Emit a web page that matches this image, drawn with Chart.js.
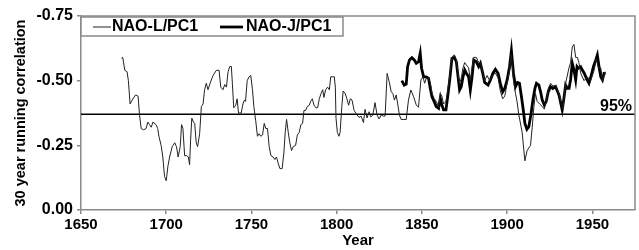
<!DOCTYPE html>
<html>
<head>
<meta charset="utf-8">
<script src="https://cdn.jsdelivr.net/npm/chart.js@4"></script>
<style>
  html, body { margin: 0; padding: 0; background: #fff; }
  #wrap { width: 639px; height: 250px; }
</style>
</head>
<body>
<div id="wrap"><canvas id="naoChart" width="639" height="250"></canvas></div>
<script>
// NAO-L/PC1 (thin line)
const naoLYears = [
  1673.7, 1674.5, 1675.7, 1677.0, 1677.8, 1678.8, 1680.0, 1682.0, 1683.5, 1684.3,
  1685.3, 1686.7, 1688.2, 1689.2, 1690.2, 1691.2, 1692.2, 1694.0, 1695.0, 1695.7,
  1697.0, 1698.0, 1699.0, 1700.0, 1701.0, 1702.0, 1703.5, 1705.0, 1706.0, 1707.0,
  1708.2, 1709.0, 1709.8, 1710.8, 1712.0, 1713.0, 1713.7, 1714.3, 1715.0, 1716.0,
  1716.7, 1717.6, 1718.4, 1719.6, 1720.6, 1721.6, 1722.5, 1723.5, 1724.5, 1726.0,
  1727.5, 1729.4, 1731.0, 1732.0, 1733.3, 1734.3, 1735.3, 1736.3, 1737.3, 1738.2,
  1738.8, 1739.6, 1740.8, 1741.6, 1742.4, 1744.0, 1745.0, 1745.9, 1746.5, 1747.5,
  1748.6, 1749.6, 1750.6, 1751.4, 1752.5, 1753.5, 1754.5, 1755.5, 1756.5, 1757.5,
  1758.4, 1759.4, 1760.4, 1761.4, 1762.7, 1763.7, 1764.7, 1765.7, 1766.7, 1768.0,
  1769.0, 1769.8, 1770.6, 1771.6, 1772.5, 1773.5, 1774.5, 1775.9, 1776.9, 1778.0,
  1779.0, 1780.0, 1780.8, 1781.8, 1782.7, 1783.9, 1784.7, 1785.7, 1786.7, 1787.8,
  1788.8, 1789.8, 1790.8, 1791.8, 1792.5, 1793.5, 1794.7, 1795.7, 1796.5, 1797.6,
  1798.6, 1799.2, 1799.6, 1800.4, 1801.3, 1802.0, 1803.0, 1803.8, 1805.0, 1806.0,
  1807.0, 1808.0, 1809.0, 1810.2, 1811.2, 1812.0, 1813.1, 1814.3, 1815.7, 1816.6,
  1817.8, 1819.0, 1820.0, 1821.2, 1822.5, 1823.7, 1824.9, 1826.1, 1827.4, 1828.4,
  1829.6, 1830.8, 1832.0, 1832.9, 1833.9, 1834.9, 1835.9, 1836.8, 1837.8, 1839.4,
  1840.8, 1842.1, 1843.5, 1845.1, 1846.7, 1848.0, 1849.4, 1850.6, 1851.6, 1852.5,
  1853.9, 1855.0, 1856.0, 1857.2, 1858.4, 1859.8, 1860.8, 1861.7, 1862.7, 1864.1,
  1865.1, 1866.3, 1867.6, 1869.0, 1870.2, 1871.2, 1872.1, 1873.1, 1874.1, 1875.1,
  1876.1, 1877.4, 1878.4, 1879.4, 1880.4, 1881.9, 1883.3, 1884.3, 1885.7, 1886.8,
  1888.2, 1889.8, 1891.6, 1893.1, 1894.7, 1896.0, 1897.4, 1898.6, 1900.0, 1901.4,
  1902.5, 1903.7, 1904.9, 1905.8, 1906.8, 1908.8, 1910.4, 1911.7, 1913.7, 1914.7,
  1915.7, 1916.6, 1917.6, 1919.0, 1920.6, 1921.8, 1922.9, 1924.1, 1925.5, 1926.8,
  1928.4, 1930.4, 1932.7, 1934.3, 1936.3, 1937.2, 1938.2, 1939.2, 1940.2, 1941.2,
  1942.1, 1943.1, 1945.1, 1947.0, 1949.0, 1951.0, 1952.3, 1953.5, 1954.9, 1955.9,
  1957.4
];
const naoLValues = [
  -0.586, -0.59, -0.54, -0.535, -0.50, -0.41, -0.425, -0.445, -0.44, -0.37,
  -0.315, -0.31, -0.315, -0.34, -0.33, -0.32, -0.34, -0.33, -0.315, -0.285,
  -0.25, -0.205, -0.13, -0.113, -0.17, -0.205, -0.245, -0.26, -0.245, -0.205,
  -0.245, -0.33, -0.315, -0.21, -0.21, -0.205, -0.175, -0.27, -0.355, -0.34,
  -0.335, -0.26, -0.245, -0.295, -0.40, -0.41, -0.465, -0.49, -0.465, -0.495,
  -0.52, -0.54, -0.54, -0.475, -0.465, -0.485, -0.475, -0.535, -0.555, -0.555,
  -0.49, -0.395, -0.405, -0.43, -0.375, -0.375, -0.41, -0.425, -0.42, -0.50,
  -0.515, -0.52, -0.465, -0.40, -0.345, -0.285, -0.295, -0.285, -0.29, -0.335,
  -0.315, -0.315, -0.245, -0.21, -0.205, -0.195, -0.205, -0.18, -0.16, -0.16,
  -0.22, -0.30, -0.35, -0.30, -0.26, -0.23, -0.245, -0.25, -0.29, -0.30,
  -0.33, -0.335, -0.385, -0.385, -0.40, -0.405, -0.42, -0.43, -0.405, -0.395,
  -0.395, -0.43, -0.45, -0.465, -0.435, -0.465, -0.475, -0.465, -0.515, -0.515,
  -0.515, -0.475, -0.355, -0.30, -0.285, -0.30, -0.40, -0.46, -0.45, -0.43,
  -0.405, -0.43, -0.425, -0.385, -0.375, -0.367, -0.358, -0.363, -0.338, -0.389,
  -0.356, -0.38, -0.36, -0.367, -0.415, -0.367, -0.352, -0.367, -0.363, -0.363,
  -0.528, -0.496, -0.457, -0.451, -0.425, -0.445, -0.406, -0.367, -0.35, -0.35,
  -0.35, -0.425, -0.464, -0.438, -0.406, -0.397, -0.503, -0.515, -0.49, -0.509,
  -0.51, -0.49, -0.45, -0.43, -0.42, -0.40, -0.45, -0.44, -0.41, -0.42,
  -0.46, -0.52, -0.59, -0.60, -0.58, -0.53, -0.49, -0.51, -0.55, -0.57,
  -0.56, -0.55, -0.50, -0.55, -0.59, -0.59, -0.57, -0.57, -0.53, -0.50,
  -0.52, -0.50, -0.52, -0.53, -0.51, -0.46, -0.43, -0.44, -0.49, -0.54,
  -0.60, -0.50, -0.45, -0.42, -0.37, -0.30, -0.19, -0.23, -0.25, -0.32,
  -0.40, -0.45, -0.42, -0.41, -0.40, -0.39, -0.42, -0.47, -0.49, -0.48,
  -0.48, -0.45, -0.39, -0.49, -0.55, -0.57, -0.63, -0.64, -0.59, -0.59,
  -0.57, -0.53, -0.50, -0.515, -0.50, -0.54, -0.585, -0.55, -0.55, -0.50,
  -0.535
];

// NAO-J/PC1 (thick line)
const naoJYears = [
  1838.2, 1839.6, 1840.8, 1841.6, 1842.7, 1844.1, 1845.5, 1846.7, 1848.0, 1849.0,
  1849.8, 1851.0, 1852.5, 1853.9, 1854.9, 1855.9, 1857.2, 1858.4, 1859.8, 1860.8,
  1861.7, 1862.7, 1864.1, 1865.1, 1866.3, 1867.6, 1869.0, 1870.2, 1871.2, 1872.1,
  1873.1, 1874.1, 1875.1, 1876.1, 1877.4, 1878.4, 1879.4, 1880.4, 1881.9, 1883.3,
  1884.3, 1885.7, 1886.8, 1888.8, 1890.2, 1891.6, 1893.1, 1894.7, 1896.0, 1897.4,
  1898.6, 1900.0, 1901.4, 1902.5, 1903.7, 1904.9, 1906.1, 1907.2, 1908.4, 1909.6,
  1910.4, 1911.6, 1912.7, 1913.9, 1915.1, 1916.3, 1917.2, 1918.6, 1919.6, 1920.6,
  1921.8, 1922.9, 1924.1, 1925.5, 1926.8, 1928.4, 1930.4, 1932.3, 1933.3, 1934.3,
  1935.3, 1936.3, 1937.2, 1938.2, 1939.2, 1940.2, 1941.0, 1941.7, 1943.1, 1944.1,
  1945.3, 1946.5, 1948.0, 1949.4, 1950.6, 1952.0, 1952.9, 1953.9, 1954.9, 1955.9,
  1956.8, 1957.8
];
const naoJValues = [
  -0.50, -0.483, -0.487, -0.554, -0.58, -0.589, -0.58, -0.567, -0.573, -0.606,
  -0.548, -0.515, -0.515, -0.509, -0.47, -0.438, -0.419, -0.40, -0.393, -0.432,
  -0.406, -0.387, -0.387, -0.438, -0.503, -0.586, -0.59, -0.573, -0.515, -0.464,
  -0.477, -0.515, -0.541, -0.528, -0.515, -0.464, -0.515, -0.58, -0.573, -0.554,
  -0.567, -0.528, -0.493, -0.483, -0.503, -0.528, -0.544, -0.528, -0.49, -0.457,
  -0.47, -0.503, -0.554, -0.616, -0.528, -0.477, -0.493, -0.49, -0.438, -0.38,
  -0.335, -0.312, -0.322, -0.367, -0.425, -0.47, -0.49, -0.483, -0.457, -0.425,
  -0.406, -0.419, -0.457, -0.477, -0.47, -0.477, -0.445, -0.387, -0.432, -0.483,
  -0.47, -0.47, -0.503, -0.567, -0.541, -0.503, -0.554, -0.548, -0.554, -0.541,
  -0.528, -0.509, -0.49, -0.522, -0.554, -0.58, -0.599, -0.554, -0.515, -0.503,
  -0.528, -0.528
];

const xTicks = [1650, 1700, 1750, 1800, 1850, 1900, 1950];
const yTicks = [-0.75, -0.50, -0.25, 0.00];
const sig95 = -0.37;

const axisGray = "#8a8a8a";
const font = "'Liberation Sans', Arial, sans-serif";

function toPoints(xs, ys) {
  return xs.map((x, i) => ({ x: x, y: ys[i] }));
}

// 95% line, plot frame and boxed legend
const extras = {
  id: "extras",
  beforeDatasetsDraw(chart) {
    const { ctx, chartArea: a, scales } = chart;
    const y = scales.y.getPixelForValue(sig95);
    ctx.save();
    ctx.strokeStyle = "#000";
    ctx.lineWidth = 1.4;
    ctx.beginPath();
    ctx.moveTo(a.left, y);
    ctx.lineTo(a.right, y);
    ctx.stroke();
    ctx.fillStyle = "#000";
    ctx.font = "bold 16px " + font;
    ctx.textAlign = "right";
    ctx.textBaseline = "alphabetic";
    ctx.fillText("95%", a.right - 3, y - 3);
    ctx.restore();
  },
  afterDatasetsDraw(chart) {
    const { ctx, chartArea: a } = chart;
    ctx.save();
    ctx.strokeStyle = axisGray;
    ctx.lineWidth = 1.5;
    ctx.beginPath();
    ctx.moveTo(a.left, a.top);
    ctx.lineTo(a.right, a.top);
    ctx.lineTo(a.right, a.bottom);
    ctx.stroke();

    // legend box
    const bx = a.left, by = a.top + 1, bw = 262, bh = 19;
    ctx.fillStyle = "#fff";
    ctx.fillRect(bx, by, bw, bh);
    ctx.strokeRect(bx, by, bw, bh);
    const ly = by + bh / 2 + 0.5;
    const ds = chart.data.datasets;
    ctx.font = "bold 16px " + font;
    ctx.textBaseline = "middle";
    ctx.textAlign = "left";
    ctx.fillStyle = "#000";
    ctx.strokeStyle = ds[0].borderColor;
    ctx.lineWidth = ds[0].borderWidth;
    ctx.beginPath(); ctx.moveTo(bx + 12, ly); ctx.lineTo(bx + 30, ly); ctx.stroke();
    ctx.fillText(ds[0].label, bx + 31, ly);
    ctx.strokeStyle = ds[1].borderColor;
    ctx.lineWidth = ds[1].borderWidth;
    ctx.beginPath(); ctx.moveTo(bx + 139, ly); ctx.lineTo(bx + 162, ly); ctx.stroke();
    ctx.fillText(ds[1].label, bx + 165, ly);
    ctx.restore();
  }
};

new Chart(document.getElementById("naoChart"), {
  type: "line",
  data: {
    datasets: [
      {
        label: "NAO-L/PC1",
        data: toPoints(naoLYears, naoLValues),
        borderColor: "#222",
        borderWidth: 1,
        pointRadius: 0,
        tension: 0,
        fill: false
      },
      {
        label: "NAO-J/PC1",
        data: toPoints(naoJYears, naoJValues),
        borderColor: "#000",
        borderWidth: 2.8,
        pointRadius: 0,
        tension: 0,
        fill: false
      }
    ]
  },
  options: {
    responsive: false,
    animation: false,
    devicePixelRatio: 1,
    layout: { padding: { top: 16, right: 4, left: 0, bottom: 0 } },
    plugins: {
      legend: { display: false },
      tooltip: { enabled: false }
    },
    scales: {
      x: {
        type: "linear",
        min: 1650,
        max: 1975,
        afterFit(s) { s.height = 40; },
        afterBuildTicks(s) { s.ticks = xTicks.map(v => ({ value: v })); },
        ticks: {
          includeBounds: false,
          color: "#000",
          font: { family: font, size: 15, weight: "bold" },
          padding: 2,
          maxRotation: 0,
          callback: v => String(v)
        },
        grid: { display: true, drawOnChartArea: false, drawTicks: true, tickLength: 4, color: axisGray, lineWidth: 1.5 },
        border: { display: true, color: axisGray, width: 1.5 },
        title: {
          display: true,
          text: "Year",
          color: "#000",
          font: { family: font, size: 15, weight: "bold" },
          padding: { top: 0, bottom: 0 }
        }
      },
      y: {
        type: "linear",
        reverse: true,
        min: -0.75,
        max: 0,
        afterFit(s) { s.width = 81; },
        afterBuildTicks(s) { s.ticks = yTicks.map(v => ({ value: v })); },
        ticks: {
          color: "#000",
          font: { family: font, size: 16, weight: "bold" },
          padding: 4,
          callback: v => Number(v).toFixed(2)
        },
        grid: { display: true, drawOnChartArea: false, drawTicks: true, tickLength: 4, color: axisGray, lineWidth: 1.5 },
        border: { display: true, color: axisGray, width: 1.5 },
        title: {
          display: true,
          text: "30 year running correlation",
          color: "#000",
          font: { family: font, size: 14.5, weight: "bold" },
          padding: { top: 12, bottom: 0 }
        }
      }
    }
  },
  plugins: [extras]
});
</script>
</body>
</html>
